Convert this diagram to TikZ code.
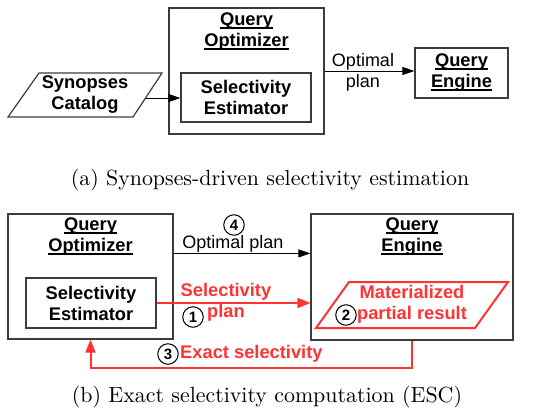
\documentclass[tikz,border=0pt]{standalone}
\usepackage{fontspec}
\usepackage{graphicx}
\newfontfamily\lib{Liberation Sans}
\usetikzlibrary{arrows.meta}
\definecolor{myred}{RGB}{255,51,51}
\definecolor{boxgray}{RGB}{60,60,60}
\newcommand{\myul}[1]{\setbox0\hbox{#1}\rlap{\rule[-2.6pt]{\wd0}{1.3pt}}\box0}
\begin{document}
\begin{tikzpicture}[x=1pt,y=-1pt,
  box/.style={draw=boxgray, line width=1.2pt, inner sep=0pt},
  lbl/.style={font=\lib\fontsize{18}{21}\selectfont, align=center, inner sep=0pt},
  blbl/.style={font=\lib\bfseries\fontsize{18.3}{21}\selectfont, align=center, inner sep=0pt},
  rlbl/.style={blbl, text=myred},
  num/.style={circle, draw=black, line width=1pt, minimum size=20.5pt, inner sep=0pt, font=\lib\bfseries\fontsize{15}{15}\selectfont},
  arr/.style={-{Triangle[length=12pt,width=8pt]}, line width=0.8pt, draw=black},
  redarr/.style={-{Triangle[length=13pt,width=10pt]}, line width=2pt, draw=myred},
  redline/.style={draw=myred, line width=2pt, line join=miter},
  captxt/.style={inner sep=0pt}
]
\useasboundingbox (0,0) rectangle (542,416);

% ---------- (a) ----------
\node[box, minimum width=155pt, minimum height=126pt] (qo1) at (246.5,71) {};
\node[blbl] (qo1t) at (246.5,32) {\myul{Query}\\\myul{Optimizer}};
\node[box, blbl, minimum width=130pt, minimum height=49pt] (se1) at (246,97.5) {Selectivity\\Estimator};
\draw[box] (8,117) -- (39,73) -- (162,73) -- (133,117) -- cycle;
\node[blbl] (sc) at (85,95) {Synopses\\Catalog};
\coordinate (scr) at (145.5,98);
\draw[arr] (scr) -- (scr -| se1.west);
\node[box, blbl, minimum width=93pt, minimum height=50pt] (qe1) at (461.5,73) {\myul{Query}\\\myul{Engine}};
\draw[arr] (qo1.east) -- (qo1.east -| qe1.west);
\node[lbl] (op1) at (363,72) {Optimal\\plan};
\node[captxt] (capa) at (270,180) {\scalebox{2.19}{(a) Synopses-driven selectivity estimation}};

% ---------- (b) ----------
\node[box, minimum width=165pt, minimum height=125pt] (qo2) at (90.5,276.5) {};
\node[blbl] (qo2t) at (90.5,237) {\myul{Query}\\\myul{Optimizer}};
\node[box, blbl, minimum width=130pt, minimum height=50pt] (se2) at (91,303) {Selectivity\\Estimator};
\node[box, minimum width=202pt, minimum height=126pt] (qe2) at (412,277) {};
\node[blbl] (qe2t) at (412,237) {\myul{Query}\\\myul{Engine}};
\draw[redline] (349,282) -- (508,282) -- (475,328) -- (316,328) -- cycle;
\node[rlbl] (mat) at (412,304.5) {Materialized\\partial result};
\node[num] (n2) at (346,315) {2};

\draw[arr] ([yshift=-40pt]qo2.north east) -- ([yshift=-40pt]qo2.north east -| qe2.west);
\node[lbl] (op2) at (233,243.5) {Optimal plan};
\node[num] (n4) at (234,225) {4};

\draw[redarr] (se2.east) -- (se2.east -| qe2.west);
\node[rlbl] (sp) at (226,302) {Selectivity\\plan};
\node[num] (n1) at (193,317) {1};

\draw[redarr] (qe2.south) -- ++(0,27) -| (qo2.south);
\node[num] (n3) at (168,354) {3};
\node[rlbl, anchor=west] (es) at (180,354) {Exact selectivity};

\node[captxt] (capb) at (267,397) {\scalebox{2.19}{(b) Exact selectivity computation (ESC)}};
\end{tikzpicture}
\end{document}
